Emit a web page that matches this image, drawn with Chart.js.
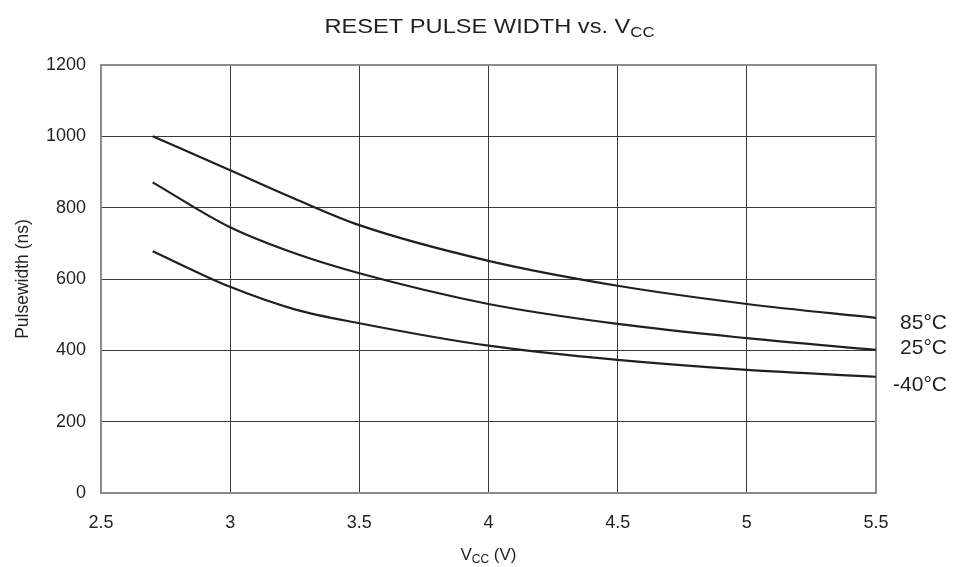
<!DOCTYPE html>
<html>
<head>
<meta charset="utf-8">
<script src="https://cdn.jsdelivr.net/npm/chart.js@4/dist/chart.umd.min.js"></script>
<style>
html,body{margin:0;padding:0;background:#fff;}
#wrap{width:964px;height:567px;}
</style>
</head>
<body>
<div id="wrap"><canvas id="c" width="964" height="567"></canvas></div>
<script>
const vcc = [2.7, 3.0, 3.25, 3.5, 4.0, 4.5, 5.0, 5.5];
const pw85 = [1000, 905, 825, 751, 651, 581, 530, 491];
const pw25 = [871, 745, 672, 616, 530, 474, 434, 401];
const pwM40 = [678, 578, 515, 476, 413, 373, 345, 326];
const seriesNames = ['85°C', '25°C', '-40°C'];
const xTicks = [2.5, 3, 3.5, 4, 4.5, 5, 5.5];
const yTicks = [0, 200, 400, 600, 800, 1000, 1200];

const FONT = '"Liberation Sans", Arial, Helvetica, sans-serif';
const INK = '#231f20';

function pts(ys){ return vcc.map((x,i)=>({x:x, y:ys[i]})); }

const labelOffsets = [5, -2, 8];

// draws text made of [string, size, dy] parts, centred at cx, stretched to width tw (if given)
function drawParts(ctx, parts, cx, baseY, tw){
  let total = 0;
  const ws = parts.map(p => { ctx.font = p[1] + 'px ' + FONT; const w = ctx.measureText(p[0]).width; total += w; return w; });
  const sx = tw ? tw / total : 1;
  ctx.save();
  ctx.translate(cx - total * sx / 2, baseY);
  ctx.scale(sx, 1);
  ctx.textAlign = 'left';
  ctx.textBaseline = 'alphabetic';
  let x = 0;
  parts.forEach((p, i) => { ctx.font = p[1] + 'px ' + FONT; ctx.fillText(p[0], x, p[2]); x += ws[i]; });
  ctx.restore();
}

const decor = {
  id: 'decor',
  beforeDatasetsDraw(chart){
    const {ctx, chartArea:a} = chart;
    ctx.save();
    ctx.strokeStyle = '#8a8d90';
    ctx.lineWidth = 2;
    ctx.strokeRect(a.left, a.top, a.right - a.left, a.bottom - a.top);
    ctx.restore();
  },
  afterDraw(chart){
    const {ctx, chartArea:a, scales} = chart;
    const cx = (a.left + a.right)/2;
    ctx.save();
    ctx.fillStyle = INK;
    // Title with subscript
    drawParts(ctx, [['RESET PULSE WIDTH vs. V', 20.5, 0], ['CC', 14.5, 4]], cx + 1, 33, 330);
    // X axis title
    drawParts(ctx, [['V', 17, 0], ['CC', 12, 3], [' (V)', 17, 0]], cx, 560, 56);

    // Y axis title
    ctx.save();
    ctx.translate(23, (a.top + a.bottom)/2);
    ctx.rotate(-Math.PI/2);
    ctx.textAlign = 'center';
    ctx.textBaseline = 'middle';
    ctx.font = '17.5px ' + FONT;
    ctx.fillText('Pulsewidth (ns)', 0, 0);
    ctx.restore();

    // Series labels at right
    ctx.font = '21px ' + FONT;
    ctx.textAlign = 'right';
    ctx.textBaseline = 'middle';
    chart.data.datasets.forEach((ds, i) => {
      const last = ds.data[ds.data.length - 1];
      const y = scales.y.getPixelForValue(last.y) + labelOffsets[i];
      ctx.fillText(seriesNames[i], 947, y);
    });
    ctx.restore();
  }
};

const mk = (d) => ({
  data: pts(d),
  borderColor: INK,
  borderWidth: 2.2,
  pointRadius: 0,
  fill: false,
  cubicInterpolationMode: 'monotone'
});

new Chart(document.getElementById('c'), {
  type: 'line',
  data: { datasets: [mk(pw85), mk(pw25), mk(pwM40)] },
  options: {
    responsive: false,
    animation: false,
    layout: { padding: { left: 0, right: 88, top: 65, bottom: 0 } },
    plugins: { legend: { display: false }, tooltip: { enabled: false }, title: { display: false } },
    scales: {
      x: {
        type: 'linear',
        min: 2.5, max: 5.5,
        afterBuildTicks(s){ s.ticks = xTicks.map(v => ({value: v})); },
        afterFit(s){ s.height = 74; },
        grid: { color: '#3a3a3a', lineWidth: 1, drawTicks: false },
        border: { display: false },
        ticks: { padding: 19, color: INK, font: { family: FONT, size: 18 }, maxRotation: 0,
                 callback: v => String(v) }
      },
      y: {
        type: 'linear',
        min: 0, max: 1200,
        afterBuildTicks(s){ s.ticks = yTicks.map(v => ({value: v})); },
        afterFit(s){ s.width = 101; },
        grid: { color: '#3a3a3a', lineWidth: 1, drawTicks: false },
        border: { display: false },
        ticks: { padding: 15, color: INK, font: { family: FONT, size: 18 }, callback: v => String(v) }
      }
    }
  },
  plugins: [decor]
});
</script>
</body>
</html>
